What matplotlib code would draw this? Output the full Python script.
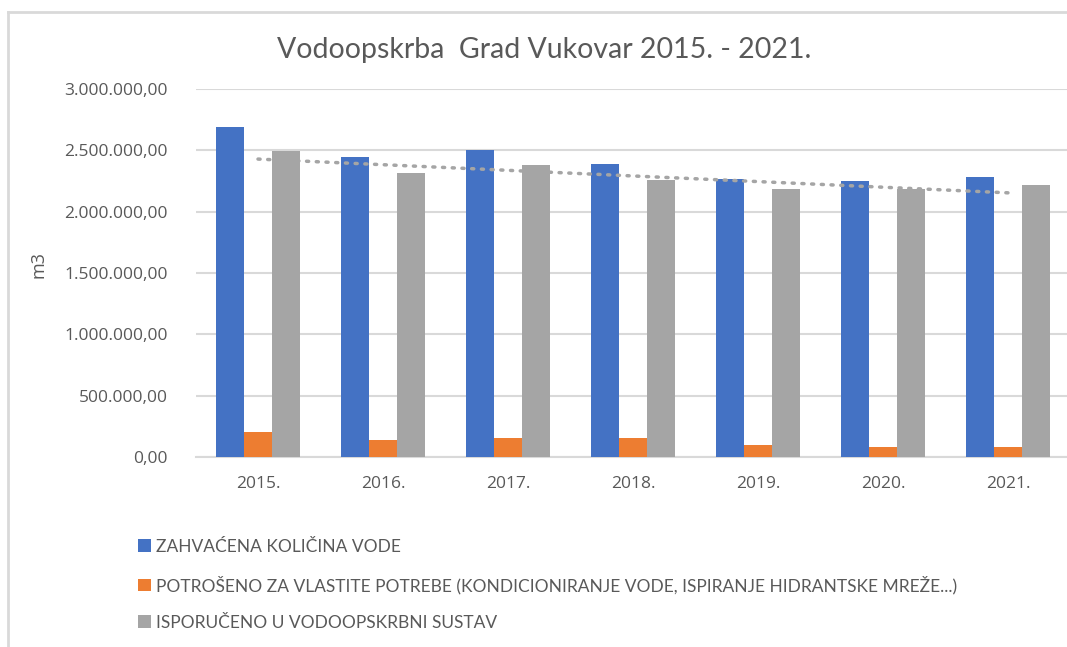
import numpy as np
import matplotlib.pyplot as plt
from matplotlib.lines import Line2D
from matplotlib.patches import Patch

# podaci (očitano s grafa)
years = ["2015.", "2016.", "2017.", "2018.", "2019.", "2020.", "2021."]
zahvaceno = [2688000, 2448000, 2503000, 2386000, 2266000, 2250000, 2285000]
potroseno = [206000, 136000, 152000, 152000, 98000, 79000, 79000]
isporuceno = [2497000, 2315000, 2378000, 2258000, 2185000, 2185000, 2220000]

labels = ["ZAHVAĆENA KOLIČINA VODE",
          "POTROŠENO ZA VLASTITE POTREBE (KONDICIONIRANJE VODE, ISPIRANJE HIDRANTSKE MREŽE...)",
          "ISPORUČENO U VODOOPSKRBNI SUSTAV"]
colors = ["#4472C4", "#ED7D31", "#A5A5A5"]

txt = "#595959"
grid = "#D9D9D9"

W, H = 1067, 647
fig = plt.figure(figsize=(W / 100, H / 100), dpi=100)

# okvir grafikona
fig.add_artist(Line2D([8 / W, 1], [1 - 12 / H, 1 - 12 / H], color=grid, lw=2))
fig.add_artist(Line2D([8 / W, 8 / W], [0, 1 - 12 / H], color=grid, lw=2))

ax = fig.add_axes([195.5 / W, 1 - 457 / H, 1 - 195.5 / W, (457 - 89) / H])

x = np.arange(len(years))
w = 0.224
for i, (vals, c) in enumerate(zip([zahvaceno, potroseno, isporuceno], colors)):
    ax.bar(x + (i - 1) * w, vals, width=w, color=c, zorder=3)

# linearni trend (isporučeno)
k, b = np.polyfit(x, isporuceno, 1)
ax.plot(x, k * x + b, color="#A5A5A5", lw=2.5, linestyle=(0, (0.6, 2.2)),
        dash_capstyle="round", zorder=4)

ax.set_xlim(-0.5, (W - 195.5) / 125 - 0.5)
ax.set_ylim(0, 3000000)
ax.set_yticks(np.arange(0, 3000001, 500000))


def hr(v):
    s = f"{v:,.2f}"
    return s.replace(",", "X").replace(".", ",").replace("X", ".")


ax.set_yticklabels([hr(v) for v in ax.get_yticks()], fontfamily="Open Sans",
                   fontsize=12.5, color=txt)
ax.set_xticks(x)
ax.set_xticklabels(years, fontfamily="Open Sans", fontsize=12.5, color=txt)
ax.tick_params(length=0)
ax.tick_params(axis="y", pad=20)
ax.tick_params(axis="x", pad=14)
ax.grid(axis="y", color=grid, lw=1.5, zorder=0)
for s in ["top", "right", "left"]:
    ax.spines[s].set_visible(False)
ax.spines["bottom"].set_color(grid)
ax.spines["bottom"].set_linewidth(1.5)

fig.text(38 / W, 1 - 265 / H, "m3", rotation=90, ha="center", va="center",
         fontfamily="Open Sans", fontsize=13, color=txt)
fig.text(544 / W, 1 - 50 / H, "Vodoopskrba  Grad Vukovar 2015. - 2021.",
         ha="center", va="center", fontfamily="Lato", fontsize=20.5, color=txt)

handles = [Patch(facecolor=c) for c in colors]
fig.legend(handles, labels, loc="upper left", bbox_to_anchor=(122 / W, 1 - 523 / H),
           frameon=False, prop={"family": "Lato", "size": 12.5},
           labelcolor=txt, handlelength=0.75, handleheight=0.75,
           handletextpad=0.3, labelspacing=1.2)

fig.savefig("out.png", dpi=100)
